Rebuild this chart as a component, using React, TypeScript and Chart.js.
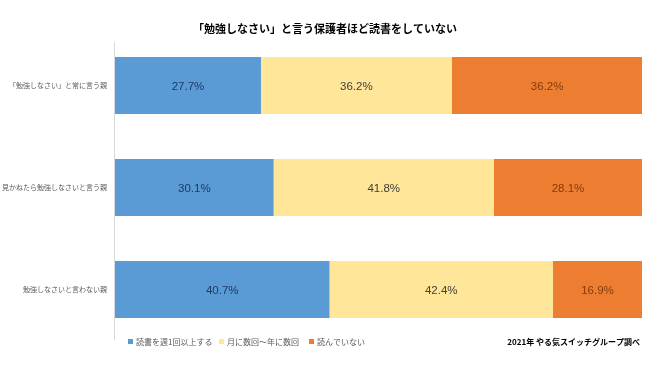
import React, { useEffect, useRef } from "react";
import { Chart, registerables } from "chart.js";

Chart.register(...registerables);

const titleText = "「勉強しなさい」と言う保護者ほど読書をしていない";
const sourceText = "2021年 やる気スイッチグループ調べ";
const categories = ["「勉強しなさい」と常に言う親", "見かねたら勉強しなさいと言う親", "勉強しなさいと言わない親"];
const seriesNames = ["読書を週1回以上する", "月に数回～年に数回", "読んでいない"];
const weeklyValues = [27.7, 30.1, 40.7];
const monthlyValues = [36.2, 41.8, 42.4];
const noneValues = [36.2, 28.1, 16.9];
const seriesColors = ["#5B9BD5", "#FFE699", "#ED7D31"];
const labelColors = ["#1F3864", "#404040", "#843C0C"];

const JP = '"Noto Sans CJK JP", "Noto Sans", sans-serif';

const overlayPlugin = {
  id: "overlay",
  afterDatasetsDraw(chart: any) {
    const ctx = chart.ctx;
    ctx.save();
    // axis line
    const ax = Math.round(chart.chartArea.left) - 0.5;
    ctx.strokeStyle = "#D9D9D9";
    ctx.lineWidth = 1;
    ctx.beginPath();
    ctx.moveTo(ax, 42);
    ctx.lineTo(ax, 340);
    ctx.stroke();
    // data labels
    chart.data.datasets.forEach((ds: any, di: number) => {
      const meta = chart.getDatasetMeta(di);
      meta.data.forEach((el: any, i: number) => {
        const v = ds.data[i];
        const p = el.getProps(["x", "y", "base"], true);
        const cx = (p.x + p.base) / 2;
        ctx.fillStyle = labelColors[di];
        ctx.font = '11.5px "Liberation Sans", Arial, sans-serif';
        ctx.textAlign = "center";
        ctx.textBaseline = "middle";
        ctx.fillText(v.toFixed(1) + "%", cx, p.y + 1);
      });
    });
    // title
    ctx.fillStyle = "#000000";
    ctx.font = "bold 11px " + JP;
    ctx.textAlign = "center";
    ctx.textBaseline = "middle";
    ctx.fillText(titleText, 325, 29);
    // legend
    const legendX = [128, 219, 309];
    ctx.font = "8px " + JP;
    ctx.textAlign = "left";
    seriesNames.forEach((n, i) => {
      ctx.fillStyle = seriesColors[i];
      ctx.fillRect(legendX[i], 339, 5, 5);
      ctx.fillStyle = "#595959";
      ctx.fillText(n, legendX[i] + 8, 341.5);
    });
    // source
    ctx.fillStyle = "#000000";
    ctx.font = "bold 8px " + JP;
    ctx.textAlign = "right";
    ctx.fillText(sourceText, 640, 341.5);
    ctx.restore();
  },
};

export default function App() {
  const ref = useRef<HTMLCanvasElement>(null);
  useEffect(() => {
    document.body.style.margin = "0";
    const chart = new Chart(ref.current as HTMLCanvasElement, {
      type: "bar",
      data: {
        labels: categories,
        datasets: [weeklyValues, monthlyValues, noneValues].map((d, i) => ({
          label: seriesNames[i],
          data: d,
          backgroundColor: seriesColors[i],
          borderWidth: 0,
          categoryPercentage: 1,
          barPercentage: 0.56,
        })),
      },
      options: {
        indexAxis: "y",
        responsive: false,
        animation: false,
        layout: { padding: { top: 34.5, bottom: 25.5, left: 0, right: 8 } },
        plugins: { legend: { display: false }, title: { display: false }, tooltip: { enabled: false } },
        scales: {
          x: { stacked: true, display: false, min: 0, max: 100 },
          y: {
            stacked: true,
            afterFit: (s: any) => {
              s.width = 115;
            },
            grid: { display: false, drawTicks: false },
            border: { display: false },
            ticks: { color: "#595959", font: { size: 7, family: JP }, padding: 8 },
          },
        },
      },
      plugins: [overlayPlugin],
    });
    return () => chart.destroy();
  }, []);
  return (
    <div style={{ width: 650, height: 366, background: "#fff" }}>
      <canvas ref={ref} width={650} height={366} />
    </div>
  );
}
